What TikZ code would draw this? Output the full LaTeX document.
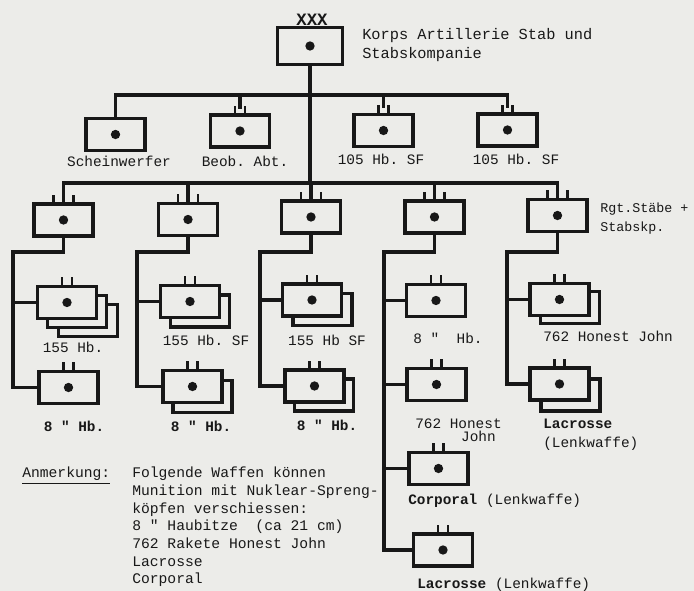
\documentclass[tikz,border=0pt]{standalone}
\usepackage{fontspec}
\setmonofont{Liberation Mono}
\definecolor{paper}{RGB}{236,236,233}
\definecolor{inkc}{RGB}{24,24,24}
\newcommand\twoticks[1]{\draw[tickln] ([xshift=-3.75pt]#1.north) -- ++(0,-9) ([xshift=3.75pt]#1.north) -- ++(0,-9);}
\newcommand\threeticks[1]{\draw[tickln] ([xshift=-7.5pt]#1.north) -- ++(0,-9) (#1.north) -- ++(0,-9) ([xshift=7.5pt]#1.north) -- ++(0,-9);}
\newcommand\unitdot[1]{\fill[inkc] (#1.center) circle[radius=3.5pt];}
\tikzset{
 ln/.style={draw=inkc, line width=2.5pt, line cap=rect},
 tickln/.style={draw=inkc, line width=2.2pt},
 ubox/.style={draw=inkc, line width=2.5pt, fill=paper, minimum width=44.25pt, minimum height=24pt, inner sep=0pt, outer sep=0pt},
 lbl/.style={font=\ttfamily\fontsize{10.8}{13}\selectfont, text=inkc, inner sep=0pt},
 blbl/.style={lbl, font=\ttfamily\bfseries\fontsize{10.8}{13}\selectfont},
}
\begin{document}
\begin{tikzpicture}[x=0.75pt,y=-0.75pt]
\fill[paper] (0,0) rectangle (694,591);
\useasboundingbox (0,0) rectangle (694,591);

% ---- boxes ----
\node[ubox, minimum width=48.75pt, minimum height=27.75pt] (top) at (310,46) {};
\node[ubox] (s1) at (115.5,134.5) {};
\node[ubox] (s2) at (240,131) {};
\node[ubox] (s3) at (383.5,130.5) {};
\node[ubox] (s4) at (507.5,130) {};

\node[ubox] (r1) at (63.5,220) {};
\node[ubox] (r2) at (188,219.5) {};
\node[ubox] (r3) at (311,217) {};
\node[ubox] (r4) at (434.5,217) {};
\node[ubox] (r5) at (557.5,215.5) {};

\node[ubox] (a1q) at (88,320.5) {};
\node[ubox] (a1p) at (77,311.5) {};
\node[ubox] (a1) at (67,302.5) {};
\node[ubox] (a2p) at (200,311) {};
\node[ubox] (a2) at (190,301.5) {};
\node[ubox] (a3p) at (322.5,309.5) {};
\node[ubox] (a3) at (312,300) {};
\node[ubox] (a4) at (436,300.5) {};
\node[ubox] (a5p) at (570,307.5) {};
\node[ubox] (a5) at (559.5,299.5) {};

\node[ubox] (b1) at (68.5,387.5) {};
\node[ubox] (b2p) at (202.5,396.5) {};
\node[ubox] (b2) at (192.5,386.5) {};
\node[ubox] (b3p) at (324,395) {};
\node[ubox] (b3) at (314.5,386) {};
\node[ubox] (b4) at (436.5,384.5) {};
\node[ubox] (b5p) at (570.5,395) {};
\node[ubox] (b5) at (559.5,384) {};

\node[ubox] (c4) at (438.5,468.5) {};
\node[ubox] (d4) at (443,550) {};

% ---- ticks and dots ----
\foreach \n in {s2,s3,s4,a1,a2,a3,a4,a5,b1,b2,b3,b4,b5,c4,d4} {\twoticks{\n}}
\foreach \n in {r1,r2,r3,r4,r5} {\threeticks{\n}}
\foreach \n in {top,s1,s2,s3,s4,r1,r2,r3,r4,r5,a1,a2,a3,a4,a5,b1,b2,b3,b4,b5,c4,d4} {\unitdot{\n}}

% XXX
\node[font=\ttfamily\bfseries\fontsize{13}{13}\selectfont, text=inkc, inner sep=0pt, anchor=south] (xxx) at (312,26) {XXX};

% ---- connectors ----
\coordinate (bar1) at (0,95);
\coordinate (bar2) at (0,183);
\draw[ln] (top.south) -- (top.south |- bar2);
\draw[ln] (s1.north) -- (s1.north |- bar1) -- (s4.north |- bar1);
\draw[ln] (s2.north |- bar1) -- ([yshift=6pt]s2.north);
\draw[ln] (s3.north |- bar1) -- ([yshift=6pt]s3.north);
\draw[ln] (s4.north |- bar1) -- ([yshift=6pt]s4.north);
\draw[ln] (r1.north |- bar2) -- (r5.north |- bar2);
\foreach \n in {r1,r2,r3,r4,r5} {\draw[ln] (\n.north |- bar2) -- (\n.north);}

\coordinate (k1) at (13,252);
\coordinate (k2) at (137,252);
\coordinate (k3) at (260,252);
\coordinate (k4) at (384,252);
\coordinate (k5) at (507,252);
\draw[ln] (r1.south) |- (k1) |- (b1.west);
\draw[ln] (a1.west -| k1) -- (a1.west);
\draw[ln] (r2.south) |- (k2) |- (b2.west);
\draw[ln] (a2.west -| k2) -- (a2.west);
\draw[ln] (r3.south) |- (k3) |- (b3.west);
\draw[ln] (a3.west -| k3) -- (a3.west);
\draw[ln] (r4.south) |- (k4) |- (d4.west);
\draw[ln] (a4.west -| k4) -- (a4.west);
\draw[ln] (b4.west -| k4) -- (b4.west);
\draw[ln] (c4.west -| k4) -- (c4.west);
\draw[ln] (r5.south) |- (k5) |- (b5.west);
\draw[ln] (a5.west -| k5) -- (a5.west);

% ---- labels ----
\node[lbl, font=\ttfamily\fontsize{11.5}{13}\selectfont, anchor=base west] (t1) at (362,40) {Korps Artillerie Stab und};
\node[lbl, font=\ttfamily\fontsize{11.5}{13}\selectfont, anchor=base west] (t2) at (362,59) {Stabskompanie};
\node[lbl, anchor=base] (l1) at (119,167) {Scheinwerfer};
\node[lbl, anchor=base] (l2) at (245,167) {Beob. Abt.};
\node[lbl, anchor=base] (l3) at (381,165) {105 Hb. SF};
\node[lbl, anchor=base] (l4) at (516,165) {105 Hb. SF};
\node[lbl, font=\ttfamily\fontsize{10}{13}\selectfont, anchor=base west] (l5) at (600,213) {Rgt.Stäbe +};
\node[lbl, font=\ttfamily\fontsize{10}{13}\selectfont, anchor=base west] (l6) at (600,232) {Stabskp.};
\node[lbl, anchor=base] (l7) at (73,353) {155 Hb.};
\node[lbl, anchor=base] (l8) at (206,346) {155 Hb. SF};
\node[lbl, anchor=base] (l9) at (327,346) {155 Hb SF};
\node[lbl, anchor=base] (l10) at (448,344) {8 "~~Hb.};
\node[lbl, anchor=base west] (l11) at (543,342) {762 Honest John};
\node[blbl, anchor=base] (l12) at (74,432) {8 " Hb.};
\node[blbl, anchor=base] (l13) at (201,432) {8 " Hb.};
\node[blbl, anchor=base] (l14) at (327,431) {8 " Hb.};
\node[lbl, anchor=base west] (l15) at (415,429) {762 Honest};
\node[lbl, anchor=base east] (l16) at (496,442) {John};
\node[blbl, anchor=base west] (l17) at (543,429) {Lacrosse};
\node[lbl, anchor=base west] (l18) at (543,448) {(Lenkwaffe)};
\node[lbl, anchor=base west] (l19) at (408,505) {\bfseries Corporal\mdseries{} (Lenkwaffe)};
\node[lbl, anchor=base west] (l20) at (417,589) {\bfseries Lacrosse\mdseries{} (Lenkwaffe)};
\node[lbl, font=\ttfamily\fontsize{11}{13.3}\selectfont, anchor=base west] (anm) at (22,478) {\underline{Anmerkung:}};
\node[lbl, font=\ttfamily\fontsize{11}{13.3}\selectfont, anchor=base west, align=left] (notes) at (132,584) {Folgende Waffen können\\Munition mit Nuklear-Spreng-\\köpfen verschiessen:\\8 " Haubitze~ (ca 21 cm)\\762 Rakete Honest John\\Lacrosse\\Corporal};
\end{tikzpicture}
\end{document}
